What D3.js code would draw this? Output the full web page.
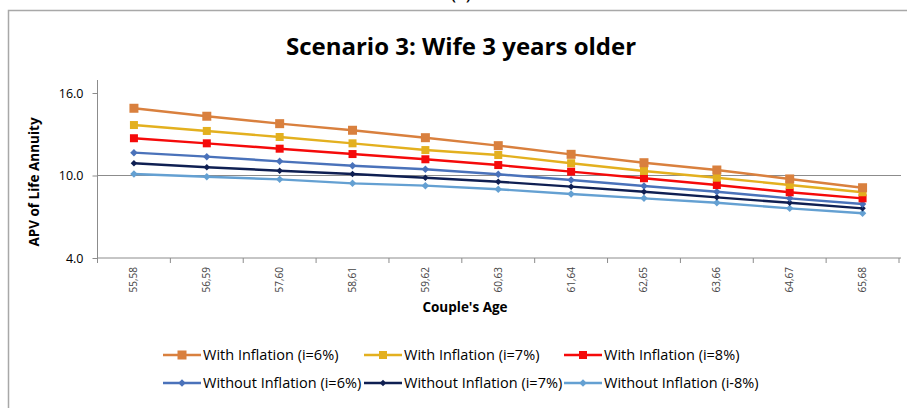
<!DOCTYPE html>
<html>
<head>
<meta charset="utf-8">
<script src="https://cdn.jsdelivr.net/npm/d3@7"></script>
<style>
  body { margin: 0; background: #fff; }
  text { font-family: "Open Sans", Lato, sans-serif; fill: #000; }
</style>
</head>
<body>
<div id="container"></div>
<script>
// couple's ages (husband, wife)
const ages = ["55,58", "56,59", "57,60", "58,61", "59,62", "60,63", "61,64", "62,65", "63,66", "64,67", "65,68"]
const yTicks = [4, 10, 16]

const withInf6 = [14.89, 14.31, 13.77, 13.29, 12.75, 12.17, 11.54, 10.93, 10.40, 9.75, 9.11]
const withInf7 = [13.67, 13.24, 12.80, 12.34, 11.85, 11.49, 10.89, 10.33, 9.84, 9.31, 8.78]
const withInf8 = [12.71, 12.34, 11.95, 11.56, 11.18, 10.76, 10.28, 9.80, 9.31, 8.78, 8.34]
const withoutInf6 = [11.66, 11.37, 11.03, 10.71, 10.45, 10.09, 9.67, 9.24, 8.82, 8.34, 7.93]
const withoutInf7 = [10.89, 10.60, 10.35, 10.11, 9.84, 9.55, 9.19, 8.82, 8.41, 8.02, 7.61]
const withoutInf8 = [10.11, 9.91, 9.72, 9.43, 9.26, 9.00, 8.65, 8.34, 8.02, 7.61, 7.25]

const series = [
  { name: "With Inflation (i=6%)", values: withInf6, color: "#d9803e", shape: "square", size: 9 },
  { name: "With Inflation (i=7%)", values: withInf7, color: "#e3b01f", shape: "square", size: 8 },
  { name: "With Inflation (i=8%)", values: withInf8, color: "#f50a0a", shape: "square", size: 8 },
  { name: "Without Inflation (i=6%)", values: withoutInf6, color: "#4a72ba", shape: "diamond", size: 8 },
  { name: "Without Inflation (i=7%)", values: withoutInf7, color: "#0f1f52", shape: "diamond", size: 7 },
  { name: "Without Inflation (i-8%)", values: withoutInf8, color: "#64a0d2", shape: "diamond", size: 8 }
]

const W = 907, H = 408
const margin = { top: 93, right: 6, bottom: 150, left: 97.5 }
const width = W - margin.left - margin.right
const height = H - margin.top - margin.bottom

const root = d3.select("#container").append("svg")
  .attr("width", W)
  .attr("height", H)

// outer frame (runs off the right and bottom)
root.append("rect")
  .attr("x", 8.5).attr("y", 10.5)
  .attr("width", 920).attr("height", 420)
  .attr("fill", "none")
  .attr("stroke", "#a8a8a8")
  .attr("stroke-width", 1.5)

// leftover of the caption above the frame
root.append("text")
  .attr("x", 461).attr("y", -1)
  .attr("text-anchor", "middle")
  .style("font-size", "20px")
  .text("(c)")

root.append("text")
  .attr("x", 461).attr("y", 55)
  .attr("text-anchor", "middle")
  .style("font-size", "24px")
  .style("font-weight", "bold")
  .text("Scenario 3: Wife 3 years older")

const svg = root.append("g")
  .attr("transform", `translate(${margin.left}, ${margin.top})`)

const xScale = d3.scaleBand()
  .domain(ages)
  .range([0, width - 2])

const yScale = d3.scaleLinear()
  .domain([4, 16])
  .range([height, 0])

// gridline at 10
svg.append("line")
  .attr("x1", 0).attr("x2", width)
  .attr("y1", yScale(10)).attr("y2", yScale(10))
  .attr("stroke", "#8c8c8c")

// y axis
const yAxis = svg.append("g")
  .call(d3.axisLeft(yScale).tickValues(yTicks).tickFormat(d3.format(".1f")).tickSize(5).tickSizeOuter(0))
yAxis.select(".domain").attr("d", `M0,${yScale(4)}V-13`).attr("stroke", "#8c8c8c")
yAxis.selectAll(".tick line").attr("stroke", "#8c8c8c")
yAxis.selectAll("text").style("font-size", "12.5px").style("font-family", "'Open Sans', sans-serif").attr("x", -14)

// x axis, ticks between categories
const xAxis = svg.append("g")
  .attr("transform", `translate(0, ${height})`)
xAxis.append("line")
  .attr("x1", 0).attr("x2", width)
  .attr("stroke", "#8c8c8c")
xAxis.selectAll(".tk")
  .data(d3.range(ages.length + 1))
  .join("line")
  .attr("x1", i => i * xScale.step()).attr("x2", i => i * xScale.step())
  .attr("y1", 0).attr("y2", 5)
  .attr("stroke", "#8c8c8c")
xAxis.selectAll(".lbl")
  .data(ages)
  .join("text")
  .attr("transform", d => `translate(${xScale(d) + xScale.bandwidth() / 2 + 3.5}, 9)rotate(-90)`)
  .attr("text-anchor", "end")
  .style("font-size", "10px")
  .style("fill", "#444")
  .text(d => d)

// axis titles
root.append("text")
  .attr("transform", "translate(39, 182)rotate(-90)")
  .attr("text-anchor", "middle")
  .style("font-size", "13.5px")
  .style("font-weight", "bold")
  .text("APV of Life Annuity")

root.append("text")
  .attr("x", 465).attr("y", 312)
  .attr("text-anchor", "middle")
  .style("font-size", "13.5px")
  .style("font-weight", "bold")
  .text("Couple's Age")

const cx = d => xScale(d) + xScale.bandwidth() / 2

const line = d3.line()
  .x((v, i) => cx(ages[i]))
  .y(v => yScale(v))

function marker(sel, s) {
  if (s.shape === "square") {
    sel.append("rect")
      .attr("x", -s.size / 2).attr("y", -s.size / 2)
      .attr("width", s.size).attr("height", s.size)
      .attr("fill", s.color)
  } else {
    sel.append("path")
      .attr("d", d3.symbol(d3.symbolDiamond2, s.size * s.size * 0.55)())
      .attr("fill", s.color)
  }
}

// draw from the bottom series up so the top ones sit over
series.slice().reverse().forEach(s => {
  svg.append("path")
    .datum(s.values)
    .attr("d", line)
    .attr("fill", "none")
    .attr("stroke", s.color)
    .attr("stroke-width", 2.4)
})
series.slice().reverse().forEach(s => {
  s.values.forEach((v, i) => {
    const g = svg.append("g").attr("transform", `translate(${cx(ages[i])}, ${yScale(v)})`)
    marker(g, s)
  })
})

// legend, 3 per row
const legX = [163, 364, 564]
const legY = [355, 383]
series.forEach((s, i) => {
  const g = root.append("g")
    .attr("transform", `translate(${legX[i % 3]}, ${legY[Math.floor(i / 3)]})`)
  g.append("line")
    .attr("x1", 0).attr("x2", 38)
    .attr("stroke", s.color)
    .attr("stroke-width", 2.4)
  const m = g.append("g").attr("transform", "translate(19, 0)")
  marker(m, s)
  g.append("text")
    .attr("x", 40).attr("y", 5)
    .style("font-size", "14.5px")
    .text(s.name)
})
</script>
</body>
</html>
